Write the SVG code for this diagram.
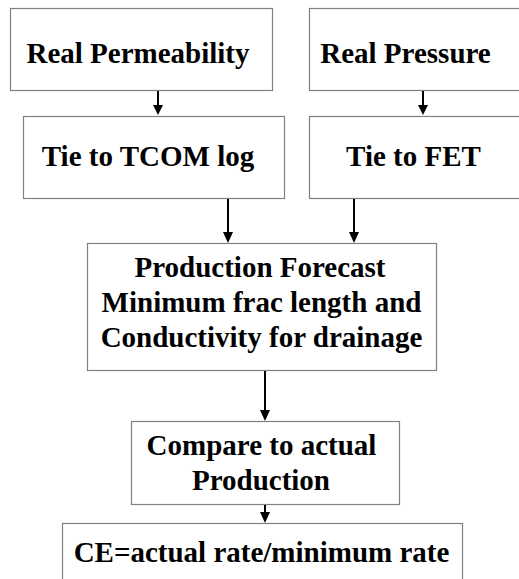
<svg xmlns="http://www.w3.org/2000/svg" width="519" height="579" viewBox="0 0 519 579">
<style>
.box{fill:#fff;stroke:#808080;stroke-width:1.2}
.t{font-family:"Liberation Serif","Times New Roman",serif;font-weight:bold;font-size:29px;fill:#000;text-anchor:middle}
.c{stroke:#000;stroke-width:2;fill:none}
.h{fill:#000}
</style>
<rect width="519" height="579" fill="#fff"/>
<g id="n1"><rect class="box" x="10.5" y="8.5" width="262" height="82"/><text class="t" x="138" y="63">Real Permeability</text></g>
<g id="n2"><rect class="box" x="309.5" y="8.5" width="215" height="82"/><text class="t" x="405.5" y="63">Real Pressure</text></g>
<g id="n3"><rect class="box" x="23.5" y="116.5" width="261" height="82"/><text class="t" x="148" y="166">Tie to TCOM log</text></g>
<g id="n4"><rect class="box" x="309.5" y="116.5" width="215" height="82"/><text class="t" x="413.5" y="166">Tie to FET</text></g>
<g id="n5"><rect class="box" x="87.5" y="243.5" width="349" height="127"/>
<text class="t" x="260" y="277">Production Forecast</text>
<text class="t" x="261.5" y="312">Minimum frac length and</text>
<text class="t" x="261.5" y="347">Conductivity for drainage</text></g>
<g id="n6"><rect class="box" x="131.5" y="421.5" width="268" height="83"/>
<text class="t" x="261.5" y="455">Compare to actual</text>
<text class="t" x="261" y="490">Production</text></g>
<g id="n7"><rect class="box" x="62.5" y="523.5" width="400" height="70"/><text class="t" x="261.5" y="562">CE=actual rate/minimum rate</text></g>
<g id="connectors">
<line class="c" x1="158" y1="91" x2="158" y2="106"/><polygon class="h" points="153,105 163,105 158,115"/>
<line class="c" x1="423" y1="91" x2="423" y2="106"/><polygon class="h" points="418,105 428,105 423,115"/>
<line class="c" x1="228" y1="199" x2="228" y2="234"/><polygon class="h" points="223,232 233,232 228,243"/>
<line class="c" x1="354" y1="199" x2="354" y2="234"/><polygon class="h" points="349,232 359,232 354,243"/>
<line class="c" x1="265" y1="371" x2="265" y2="412"/><polygon class="h" points="260,410 270,410 265,421"/>
<line class="c" x1="265" y1="505" x2="265" y2="514"/><polygon class="h" points="260,512 270,512 265,523"/>
</g>
</svg>
